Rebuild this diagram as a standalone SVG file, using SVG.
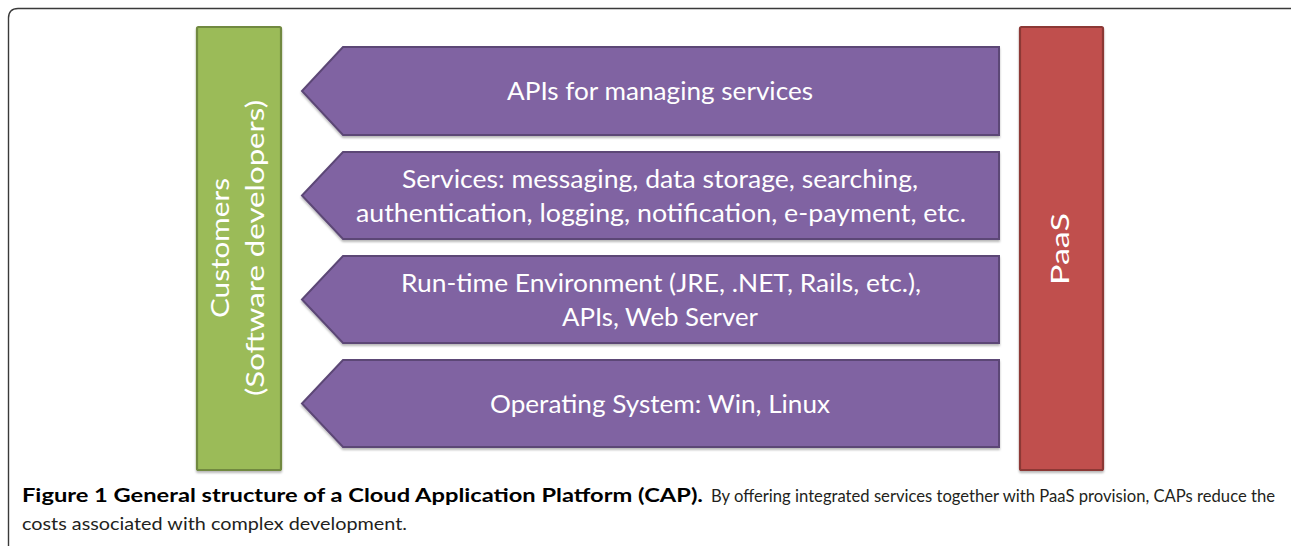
<svg xmlns="http://www.w3.org/2000/svg" width="1291" height="546" viewBox="0 0 1291 546">
  <defs>
    <filter id="shadow" x="-5%" y="-5%" width="110%" height="115%">
      <feDropShadow dx="0" dy="2" stdDeviation="1.2" flood-color="#000" flood-opacity="0.28"/>
    </filter>
  </defs>
  <style>
    .frame { fill: none; stroke: #3a3a3a; stroke-width: 1.4; }
    .layer { fill: #8064A2; stroke: #5C4776; stroke-width: 2; stroke-linejoin: miter; filter: url(#shadow); }
    .cust { fill: #9BBB59; stroke: #71893F; stroke-width: 2.2; filter: url(#shadow); }
    .paas { fill: #C0504D; stroke: #8C3836; stroke-width: 2.2; filter: url(#shadow); }
    .lbl { font-family: Lato, "Open Sans", "Liberation Sans", sans-serif; font-size: 25px; fill: #ffffff; text-anchor: middle; }
    .cap { font-family: Lato, "Open Sans", "Liberation Sans", sans-serif; font-size: 16.5px; fill: #231f20; }
    .capb { font-weight: bold; font-size: 18.5px; fill: #000000; }
  </style>

  <!-- figure frame: top and left rules with rounded corner -->
  <path class="frame" d="M 8.5 546 V 18 Q 8.5 8.5 18 8.5 H 1291"/>

  <!-- customers column -->
  <g id="customers">
    <rect class="cust" x="197" y="27" width="84" height="443" rx="1.5"/>
    <text class="lbl" transform="translate(229 248) rotate(-90)" textLength="140" lengthAdjust="spacingAndGlyphs">Customers</text>
    <text class="lbl" transform="translate(264 248) rotate(-90)" textLength="296" lengthAdjust="spacingAndGlyphs">(Software developers)</text>
  </g>

  <!-- PaaS column -->
  <g id="paas">
    <rect class="paas" x="1020" y="27" width="83" height="443" rx="1.5"/>
    <text class="lbl" transform="translate(1069 249) rotate(-90)" textLength="72" lengthAdjust="spacingAndGlyphs">PaaS</text>
  </g>

  <!-- platform layers, pointing toward the customers -->
  <g id="layer-apis">
    <path class="layer" d="M 343 47 H 999 V 135 H 343 L 302 91 Z"/>
    <text class="lbl" x="660" y="100" textLength="306" lengthAdjust="spacingAndGlyphs">APIs for managing services</text>
  </g>

  <g id="layer-services">
    <path class="layer" d="M 343 152 H 999 V 239 H 343 L 302 195.5 Z"/>
    <text class="lbl" x="660" y="188" textLength="516" lengthAdjust="spacingAndGlyphs">Services: messaging, data storage, searching,</text>
    <text class="lbl" x="661" y="222" textLength="610" lengthAdjust="spacingAndGlyphs">authentication, logging, notification, e-payment, etc.</text>
  </g>

  <g id="layer-runtime">
    <path class="layer" d="M 343 256 H 999 V 343 H 343 L 302 299.5 Z"/>
    <text class="lbl" x="661" y="292" textLength="520" lengthAdjust="spacingAndGlyphs">Run-time Environment (JRE, .NET, Rails, etc.),</text>
    <text class="lbl" x="660" y="326" textLength="196" lengthAdjust="spacingAndGlyphs">APIs, Web Server</text>
  </g>

  <g id="layer-os">
    <path class="layer" d="M 343 360 H 999 V 447 H 343 L 302 403.5 Z"/>
    <text class="lbl" x="660" y="413" textLength="340" lengthAdjust="spacingAndGlyphs">Operating System: Win, Linux</text>
  </g>

  <!-- no connectors between nodes; group kept for structure -->
  <g id="connectors"/>

  <!-- caption -->
  <g id="caption">
    <text class="cap capb" x="22" y="502" textLength="681" lengthAdjust="spacingAndGlyphs">Figure 1 General structure of a Cloud Application Platform (CAP).</text>
    <text class="cap" x="711" y="502" textLength="564" lengthAdjust="spacingAndGlyphs">By offering integrated services together with PaaS provision, CAPs reduce the</text>
    <text class="cap" x="22" y="530" textLength="385" lengthAdjust="spacingAndGlyphs">costs associated with complex development.</text>
  </g>
</svg>
